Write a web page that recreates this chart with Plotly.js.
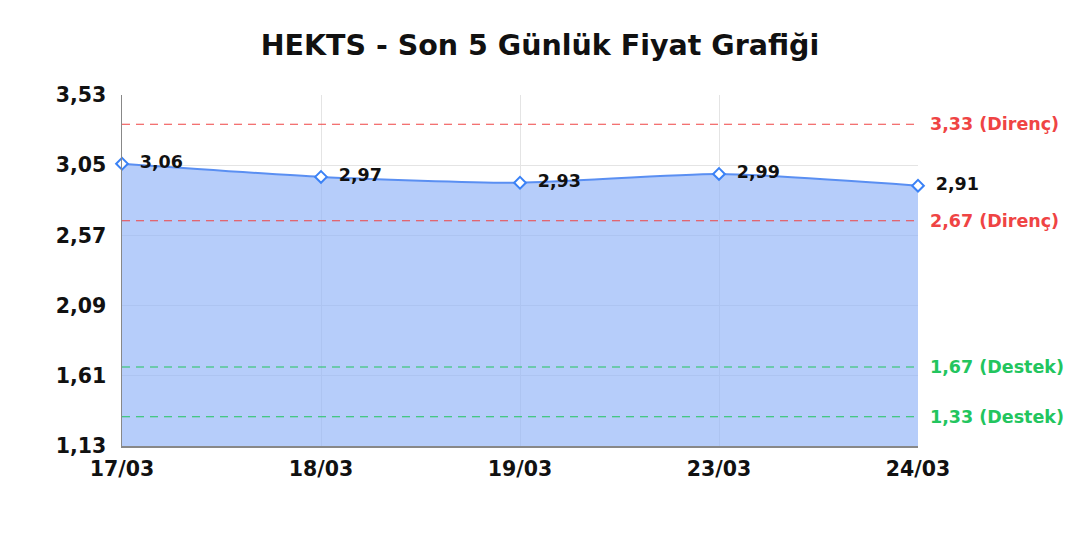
<!DOCTYPE html>
<html>
<head>
<meta charset="utf-8">
<script src="https://cdn.plot.ly/plotly-3.0.1.min.js"></script>
<style>body{margin:0;background:#fff}#chart{width:1080px;height:540px}</style>
</head>
<body>
<div id="chart"></div>
<script>
const dates = ['17/03', '18/03', '19/03', '23/03', '24/03'];
const prices = [3.06, 2.97, 2.93, 2.99, 2.91];
const resistance = [3.33, 2.67];
const support = [1.67, 1.33];
const yTicks = [1.13, 1.61, 2.09, 2.57, 3.05, 3.53];

const fmt = v => v.toFixed(2).replace('.', ',');
const font = 'DejaVu Sans, sans-serif';

const priceTrace = {
    type: 'scatter',
    mode: 'lines+markers+text',
    x: dates,
    y: prices,
    fill: 'tozeroy',
    fillcolor: 'rgba(147,182,248,0.68)',
    line: { color: '#5a8ff2', width: 2, shape: 'spline', smoothing: 0.6 },
    marker: { symbol: 'diamond', size: 9, color: '#fff', line: { width: 2, color: '#3b82f6' } },
    text: prices.map(v => '  <b>' + fmt(v) + '</b>'),
    textposition: 'middle right',
    textfont: { family: font, size: 17.5, color: '#111' },
    cliponaxis: false,
    hoverinfo: 'skip'
};

const levelShapes = [];
const levelNotes = [];
resistance.forEach(v => {
    levelShapes.push({ type: 'line', xref: 'paper', x0: 0, x1: 1, y0: v, y1: v,
        line: { color: '#ef4444', width: 1.2, dash: '8px,6px' } });
    levelNotes.push({ xref: 'paper', x: 1.013, y: v, xanchor: 'left', showarrow: false,
        text: '<b>' + fmt(v) + ' (Direnç)</b>', font: { family: font, size: 17.5, color: '#ef4444' } });
});
support.forEach(v => {
    levelShapes.push({ type: 'line', xref: 'paper', x0: 0, x1: 1, y0: v, y1: v,
        line: { color: '#22c55e', width: 1.2, dash: '8px,6px' } });
    levelNotes.push({ xref: 'paper', x: 1.013, y: v, xanchor: 'left', showarrow: false,
        text: '<b>' + fmt(v) + ' (Destek)</b>', font: { family: font, size: 17.5, color: '#22c55e' } });
});

const layout = {
    width: 1080,
    height: 540,
    margin: { l: 122, r: 162, t: 95, b: 94 },
    paper_bgcolor: '#fff',
    plot_bgcolor: '#fff',
    showlegend: false,
    title: {
        text: '<b>HEKTS - Son 5 Günlük Fiyat Grafiği</b>',
        x: 0.5, y: 0.917, yanchor: 'middle',
        font: { family: font, size: 28.5, color: '#111' }
    },
    xaxis: {
        type: 'category',
        range: [0, dates.length - 1],
        showgrid: true,
        gridcolor: '#e4e4e4',
        showline: true,
        linecolor: '#888',
        linewidth: 1.5,
        ticks: '',
        ticklabelstandoff: 4,
        tickfont: { family: font, size: 20.5, color: '#111', weight: 'bold' },
        zeroline: false
    },
    yaxis: {
        range: [1.13, 3.53],
        tickvals: yTicks,
        ticktext: yTicks.map(fmt),
        showgrid: true,
        gridcolor: '#e4e4e4',
        showline: true,
        linecolor: '#888',
        linewidth: 1.5,
        ticks: '',
        ticklabelstandoff: 10,
        tickfont: { family: font, size: 20.5, color: '#111', weight: 'bold' },
        zeroline: false
    },
    shapes: levelShapes,
    annotations: levelNotes
};

Plotly.newPlot('chart', [priceTrace], layout, { displayModeBar: false, staticPlot: true });
</script>
</body>
</html>
